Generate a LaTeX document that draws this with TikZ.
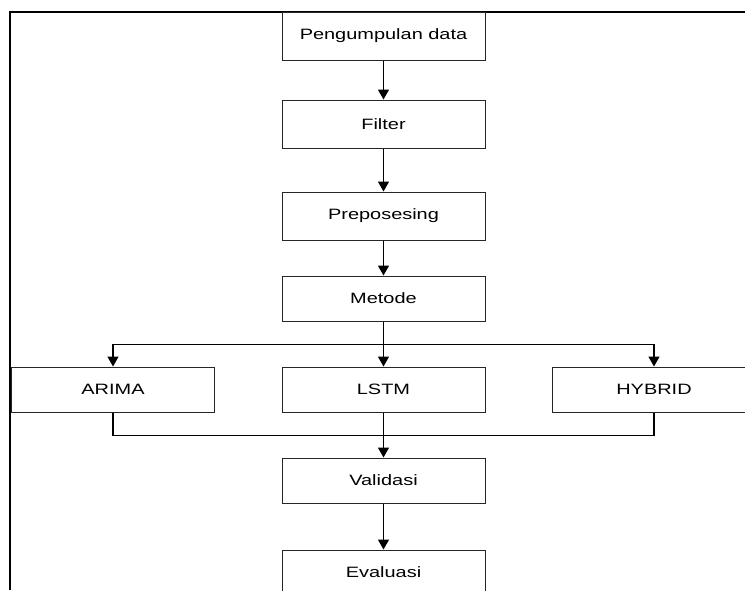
\documentclass[tikz,border=0pt]{standalone}
\usepackage{fontspec}
\setmainfont{Liberation Sans}[FakeStretch=1.33]
\usetikzlibrary{arrows.meta}
\begin{document}
\begin{tikzpicture}[x=1pt,y=-1pt,
  box/.style={draw=black!85,line width=1pt,rectangle,inner sep=0pt,
    minimum width=203pt,minimum height=46pt,
    font=\fontsize{15}{18}\selectfont},
  flow/.style={line width=1.4pt,-{Triangle[length=10pt,width=11pt]}},
  link/.style={line width=1.4pt},
  frame/.style={line width=2.4pt}]
\useasboundingbox (0,0) rectangle (745,590);
\clip (0,0) rectangle (745,590);
\coordinate (fa) at (10,590);
\coordinate (fb) at (10,12);
\coordinate (fc) at (745,12);
\draw[frame] (fa) -- (fb) -- (fc);
\node[box,minimum height=48pt] (peng) at (383.5,36) {Pengumpulan data};
\node[box,minimum height=48pt] (filter) at (383.5,124) {Filter};
\node[box,minimum height=48pt] (prep) at (383.5,216) {Preposesing};
\node[box,minimum height=45pt] (metode) at (383.5,298.5) {Metode};
\node[box,minimum height=45pt] (arima) at (113,389.5) {ARIMA};
\node[box,minimum height=45pt] (lstm) at (383.5,389.5) {LSTM};
\node[box,minimum height=45pt] (hybrid) at (654,389.5) {HYBRID};
\node[box,minimum height=45pt] (valid) at (383.5,480.5) {Validasi};
\node[box,minimum height=45pt] (eval) at (383.5,572.5) {Evaluasi};
\coordinate (merge) at ([yshift=-23pt]lstm.south);
\draw[flow] (peng) -- (filter);
\draw[flow] (filter) -- (prep);
\draw[flow] (prep) -- (metode);
\draw[flow] (metode) -- (lstm);
\draw[flow] (metode.south) -- ++(0,23) -| (arima.north);
\draw[flow] (metode.south) -- ++(0,23) -| (hybrid.north);
\draw[flow] (lstm) -- (valid);
\draw[link] (arima.south) |- (merge);
\draw[link] (hybrid.south) |- (merge);
\draw[flow] (valid) -- (eval);
\end{tikzpicture}
\end{document}
